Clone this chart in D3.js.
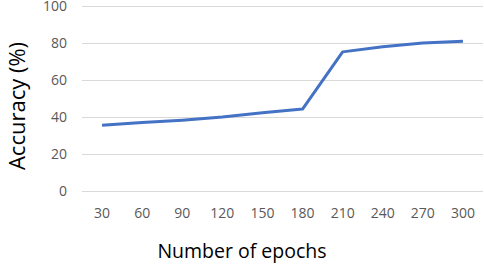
<!DOCTYPE html>
<html>
<head>
<meta charset="utf-8">
<script src="https://cdn.jsdelivr.net/npm/d3@7"></script>
<style>
  body { margin: 0; background: #fff; }
  text { font-family: "Open Sans", sans-serif; }
</style>
</head>
<body>
<div id="chart"></div>
<script>
var epochs = ["30", "60", "90", "120", "150", "180", "210", "240", "270", "300"];
var accuracy = [35.5, 37, 38.3, 40, 42.3, 44.3, 75.2, 78, 80, 81];
var yTicks = [0, 20, 40, 60, 80, 100];

var width = 484, height = 264;
var margin = {left: 82, right: 1, top: 6, bottom: 73};

var svg = d3.select("#chart").append("svg")
    .attr("width", width).attr("height", height);

var x = d3.scaleBand().domain(epochs)
    .range([margin.left, width - margin.right]);
var y = d3.scaleLinear().domain([0, 100])
    .range([height - margin.bottom, margin.top]);

// gridlines
svg.append("g").selectAll("line").data(yTicks).enter().append("line")
    .attr("x1", margin.left).attr("x2", width - margin.right)
    .attr("y1", d => y(d) + 0.5).attr("y2", d => y(d) + 0.5)
    .attr("stroke", "#d9d9d9").attr("stroke-width", 1);

// y labels
svg.append("g").selectAll("text").data(yTicks).enter().append("text")
    .attr("x", 67).attr("y", d => y(d))
    .attr("dy", "0.35em").attr("text-anchor", "end")
    .attr("font-size", 14).attr("fill", "#595959")
    .text(d => d);

// x labels
svg.append("g").selectAll("text").data(epochs).enter().append("text")
    .attr("x", d => x(d) + x.bandwidth() / 2).attr("y", 218)
    .attr("text-anchor", "middle")
    .attr("font-size", 14).attr("fill", "#595959")
    .text(d => d);

var line = d3.line()
    .x((d, i) => x(epochs[i]) + x.bandwidth() / 2)
    .y(d => y(d));

svg.append("path").datum(accuracy)
    .attr("d", line)
    .attr("fill", "none")
    .attr("stroke", "#4472c4")
    .attr("stroke-width", 3)
    .attr("stroke-linejoin", "round");

// axis titles
svg.append("text")
    .attr("transform", "translate(25,106) rotate(-90)")
    .attr("text-anchor", "middle")
    .attr("font-size", 22).attr("fill", "#000")
    .text("Accuracy (%)");

svg.append("text")
    .attr("x", 242).attr("y", 258)
    .attr("text-anchor", "middle")
    .attr("font-size", 19.5).attr("fill", "#000")
    .text("Number of epochs");
</script>
</body>
</html>
